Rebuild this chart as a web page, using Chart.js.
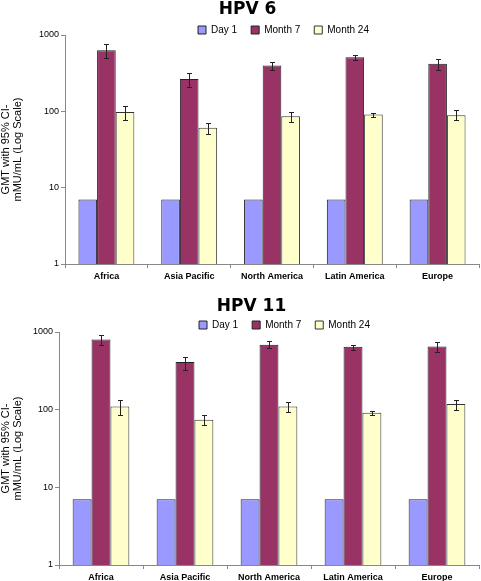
<!DOCTYPE html>
<html>
<head>
<meta charset="utf-8">
<script src="https://cdn.jsdelivr.net/npm/chart.js@4.4.1/dist/chart.umd.min.js"></script>
<style>
  body { margin: 0; background: #fff; }
  #wrap1 { position: absolute; left: 0; top: 0; }
  #wrap2 { position: absolute; left: 0; top: 292px; }
</style>
</head>
<body>
<div id="wrap1"><canvas id="hpv6Chart" width="481" height="292"></canvas></div>
<div id="wrap2"><canvas id="hpv11Chart" width="481" height="289"></canvas></div>
<script>
// Categories and tick labels
const regions = ['Africa', 'Asia Pacific', 'North America', 'Latin America', 'Europe'];
const yTicks = [1, 10, 100, 1000];
const seriesNames = ['Day 1', 'Month 7', 'Month 24'];

// HPV 6 GMTs with 95% CI
const hpv6Day1 = [7, 7, 7, 7, 7];
const hpv6Month7 = [630, 265, 400, 510, 420];
const hpv6Month7Low = [495, 207, 345, 467, 345];
const hpv6Month7High = [755, 316, 448, 548, 481];
const hpv6Month24 = [98, 61, 86, 91, 89];
const hpv6Month24Low = [78, 51, 73, 85, 78];
const hpv6Month24High = [118, 70, 97, 95, 103];

// HPV 11 GMTs with 95% CI
const hpv11Day1 = [7, 7, 7, 7, 7];
const hpv11Month7 = [800, 410, 685, 645, 650];
const hpv11Month7Low = [673, 327, 617, 590, 557];
const hpv11Month7High = [925, 475, 759, 685, 741];
const hpv11Month24 = [110, 74, 110, 91, 118];
const hpv11Month24Low = [86, 64, 94, 85, 100];
const hpv11Month24High = [133, 85, 126, 96, 133];

Chart.defaults.font.family = '"Liberation Sans", Arial, sans-serif';
Chart.defaults.color = '#000';

// whiskers for the confidence intervals
const errorBars = {
  id: 'errorBars',
  afterDatasetsDraw(chart) {
    const ctx = chart.ctx;
    const yScale = chart.scales.y;
    ctx.save();
    ctx.strokeStyle = '#222';
    ctx.lineWidth = 1;
    chart.data.datasets.forEach((ds, i) => {
      if (!ds.errLow) return;
      chart.getDatasetMeta(i).data.forEach((bar, j) => {
        const x = Math.round(bar.x) + 0.5;
        const top = Math.round(yScale.getPixelForValue(ds.errHigh[j])) + 0.5;
        const bottom = Math.round(yScale.getPixelForValue(ds.errLow[j])) + 0.5;
        ctx.beginPath();
        ctx.moveTo(x, top); ctx.lineTo(x, bottom);
        ctx.moveTo(x - 2.5, top); ctx.lineTo(x + 2.5, top);
        ctx.moveTo(x - 2.5, bottom); ctx.lineTo(x + 2.5, bottom);
        ctx.stroke();
      });
    });
    ctx.restore();
  }
};

// move title and legend sideways like the original
const nudge = {
  id: 'nudge',
  afterLayout(chart, args, opts) {
    chart.titleBlock.left += opts.titleDx;
    chart.titleBlock.right += opts.titleDx;
    chart.legend.left += opts.legendDx;
    chart.legend.right += opts.legendDx;
  }
};

function makeChart(canvasId, title, day1, m7, m7Low, m7High, m24, m24Low, m24High, lay) {
  const ctx = document.getElementById(canvasId).getContext('2d');
  return new Chart(ctx, {
    type: 'bar',
    data: {
      labels: regions,
      datasets: [{
        label: seriesNames[0],
        data: day1,
        backgroundColor: '#9999FF',
        borderColor: '#222',
        borderWidth: 1
      }, {
        label: seriesNames[1],
        data: m7,
        errLow: m7Low,
        errHigh: m7High,
        backgroundColor: '#993366',
        borderColor: '#222',
        borderWidth: 1
      }, {
        label: seriesNames[2],
        data: m24,
        errLow: m24Low,
        errHigh: m24High,
        backgroundColor: '#FFFFCC',
        borderColor: '#333',
        borderWidth: 1
      }]
    },
    options: {
      responsive: false,
      animation: false,
      devicePixelRatio: 1,
      layout: { padding: { left: 0, right: 2, top: 0, bottom: 0 } },
      datasets: { bar: { barPercentage: 1, categoryPercentage: 0.675 } },
      scales: {
        x: {
          grid: { drawOnChartArea: false, offset: true, tickLength: 4, color: '#888' },
          border: { color: '#888' },
          ticks: { font: { size: 9, weight: 'bold' }, padding: 3, maxRotation: 0, autoSkip: false },
          afterFit: s => { s.height = lay.xHeight; }
        },
        y: {
          type: 'logarithmic',
          min: 1,
          max: 1000,
          afterBuildTicks: s => { s.ticks = yTicks.map(v => ({ value: v })); },
          afterFit: s => { s.width = lay.yWidth; },
          grid: { drawOnChartArea: false, tickLength: 4, color: '#888' },
          border: { color: '#888' },
          ticks: { font: { size: 9 }, padding: 2, callback: v => String(v) },
          title: {
            display: true,
            text: ['GMT with 95% CI-', 'mMU/mL (Log Scale)'],
            font: { size: 11, lineHeight: 1.1 },
            padding: { top: 0, bottom: 0 }
          }
        }
      },
      plugins: {
        title: {
          display: true,
          text: title,
          font: { family: '"DejaVu Sans", sans-serif', size: 17, weight: 'bold', lineHeight: 1 },
          padding: { top: lay.titleTop, bottom: lay.titleBottom }
        },
        legend: {
          position: 'top',
          maxHeight: lay.legendHeight,
          labels: { boxWidth: 8, boxHeight: 8, padding: 14, font: { size: 10 } }
        },
        tooltip: { enabled: false },
        nudge: { titleDx: lay.titleDx, legendDx: lay.legendDx }
      }
    },
    plugins: [errorBars, nudge]
  });
}

makeChart('hpv6Chart', 'HPV 6', hpv6Day1, hpv6Month7, hpv6Month7Low, hpv6Month7High,
  hpv6Month24, hpv6Month24Low, hpv6Month24High,
  { yWidth: 65, xHeight: 28, titleTop: 1, titleBottom: -7, legendHeight: 24, titleDx: 8, legendDx: 44 });

makeChart('hpv11Chart', 'HPV 11', hpv11Day1, hpv11Month7, hpv11Month7Low, hpv11Month7High,
  hpv11Month24, hpv11Month24Low, hpv11Month24High,
  { yWidth: 59, xHeight: 16, titleTop: 6, titleBottom: -9, legendHeight: 26, titleDx: 12, legendDx: 45 });
</script>
</body>
</html>
